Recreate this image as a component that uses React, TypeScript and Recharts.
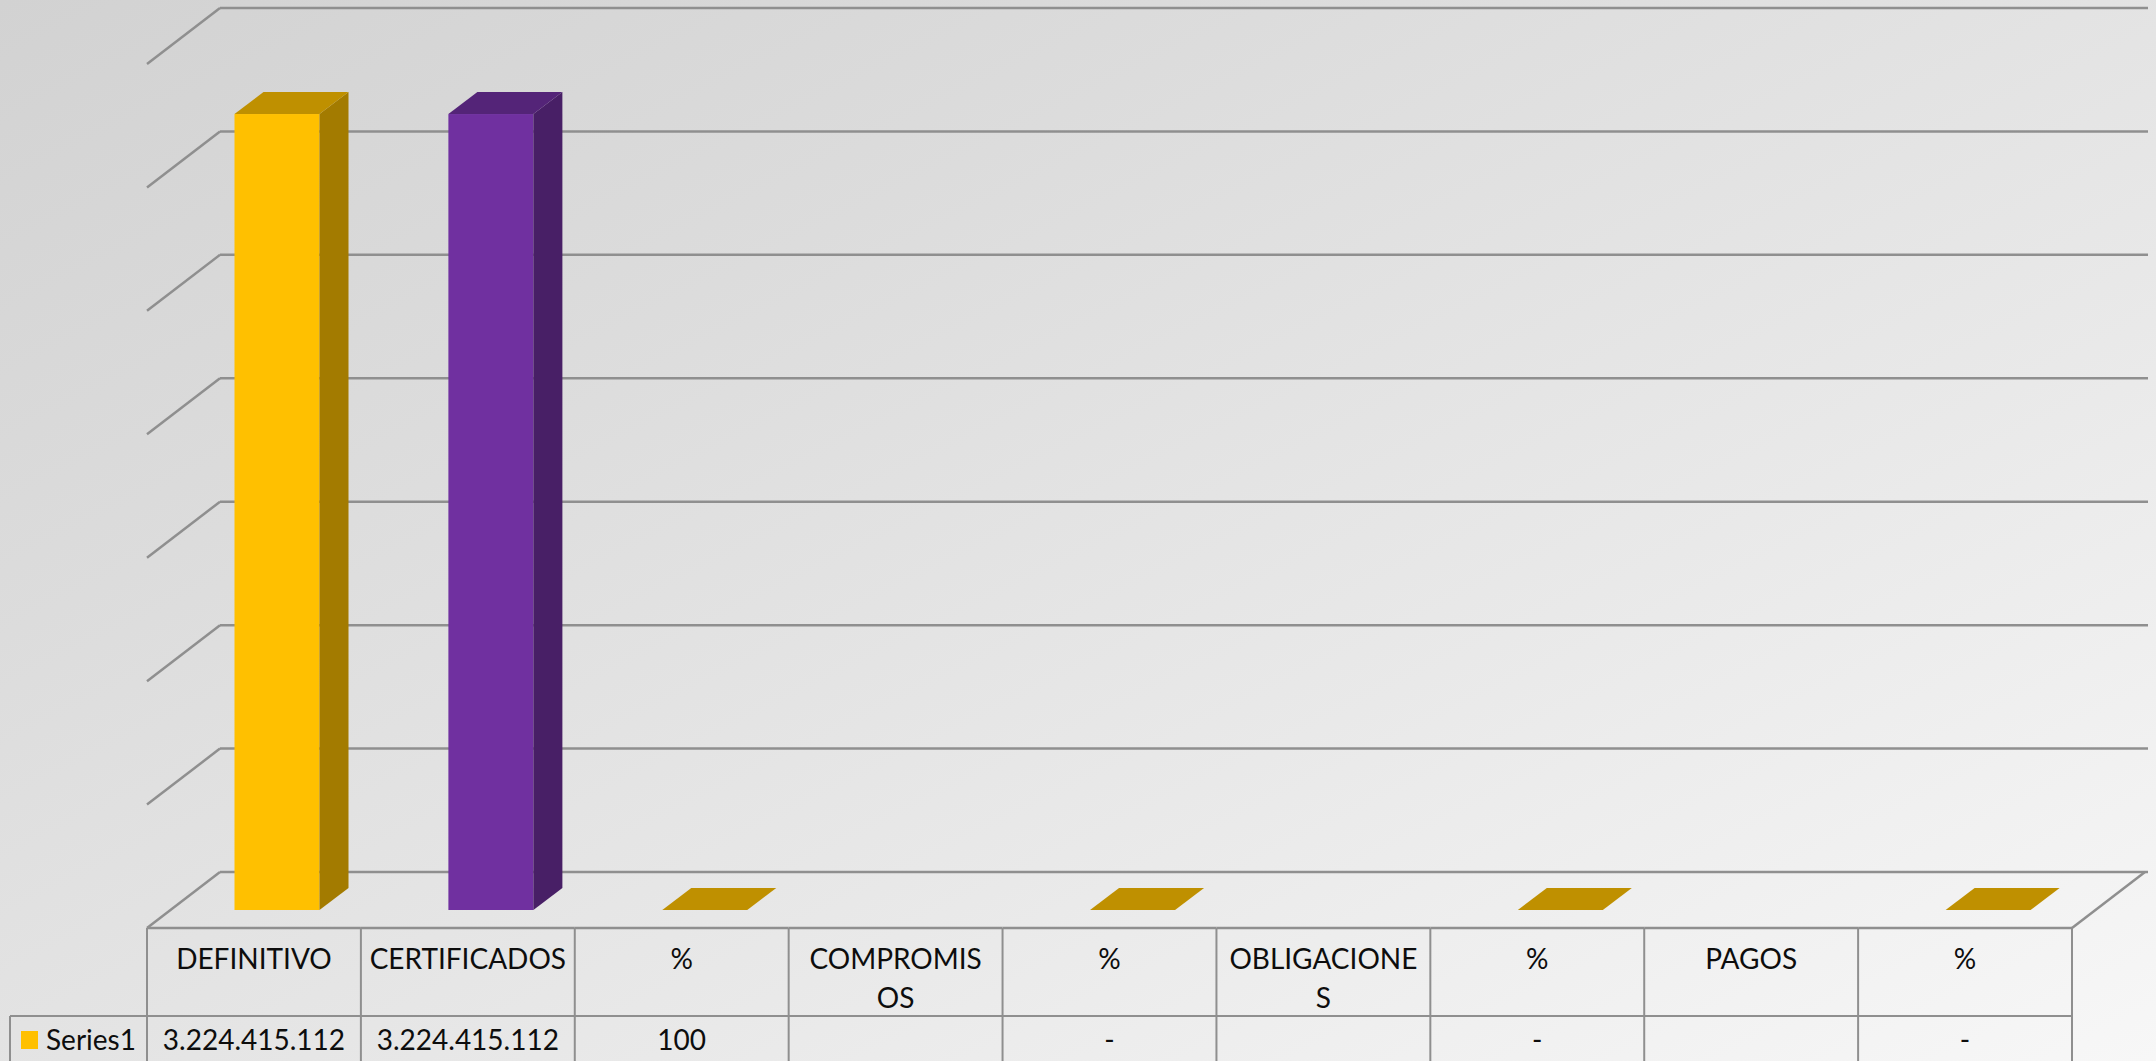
import React from 'react';
import { BarChart, Bar, XAxis, YAxis, CartesianGrid, Cell } from 'recharts';

// ---- data ----
const categories = ['DEFINITIVO', 'CERTIFICADOS', '%', 'COMPROMISOS', '%', 'OBLIGACIONES', '%', 'PAGOS', '%'];
// header text as the data table wraps it
const headerLines = [
  ['DEFINITIVO'],
  ['CERTIFICADOS'],
  ['%'],
  ['COMPROMIS', 'OS'],
  ['%'],
  ['OBLIGACIONE', 'S'],
  ['%'],
  ['PAGOS'],
  ['%'],
];
const series1: (number | null)[] = [3224415112, 3224415112, 100, null, 0, null, 0, null, 0];
const seriesName = 'Series1';
const yTicks = [0, 500000000, 1000000000, 1500000000, 2000000000, 2500000000, 3000000000, 3500000000];
const barColors = ['#FFC000', '#7030A0', '#FFC000', '#FFC000', '#FFC000', '#FFC000', '#FFC000', '#FFC000', '#FFC000'];

// ---- layout ----
const W = 2156;
const H = 1061;
const MARGIN = { top: 46, right: 60.5, left: 170.5, bottom: 0 };
const AXIS_H = 151;
const BAR_DX = 29; // bar depth
const BAR_DY = 22;
const FRONT_DX = 23.5; // bar front plane -> floor front edge
const FRONT_DY = 18;
const BACK_DX = 49.5; // bar front plane -> back wall
const BACK_DY = 38;
const LINE = '#8f8f8f';
const FONT = 'Lato, "Open Sans", sans-serif';

const data = categories.map((name, i) => ({ key: i, name, value: series1[i] }));

const fmt = (v: number | null) => {
  if (v == null) return '';
  if (v === 0) return '-';
  return String(v).replace(/\B(?=(\d{3})+(?!\d))/g, '.');
};

const shade = (hex: string, k: number) => {
  const n = parseInt(hex.slice(1), 16);
  const r = Math.round(((n >> 16) & 255) * k);
  const g = Math.round(((n >> 8) & 255) * k);
  const b = Math.round((n & 255) * k);
  return `rgb(${r},${g},${b})`;
};

const Bar3D = (props: any) => {
  const { x, y, width, height, fill } = props;
  if (x == null || y == null) return null;
  const r = x + width;
  const b = y + height;
  return (
    <g>
      {height > 0.5 && <rect x={x} y={y} width={width} height={height} fill={fill} />}
      {height > 0.5 && (
        <polygon
          points={`${r},${y} ${r + BAR_DX},${y - BAR_DY} ${r + BAR_DX},${b - BAR_DY} ${r},${b}`}
          fill={shade(fill, 0.64)}
        />
      )}
      <polygon
        points={`${x},${y} ${x + BAR_DX},${y - BAR_DY} ${r + BAR_DX},${y - BAR_DY} ${r},${y}`}
        fill={shade(fill, 0.75)}
      />
    </g>
  );
};

// side wall + back wall gridline for each y tick
const WallLine = (props: any) => {
  const { x1, y1, x2 } = props;
  return (
    <g key={`wall-${y1}`}>
      <line x1={x1 - FRONT_DX} y1={y1 + FRONT_DY} x2={x1 + BACK_DX} y2={y1 - BACK_DY} stroke={LINE} strokeWidth={2.5} />
      <line x1={x1 + BACK_DX} y1={y1 - BACK_DY} x2={x2 + BACK_DX + 3} y2={y1 - BACK_DY} stroke={LINE} strokeWidth={2.5} />
    </g>
  );
};

const TableTick = (props: any) => {
  const { x, y, payload, index } = props;
  const i = payload?.index ?? index;
  const half = payload?.offset || (W - MARGIN.left - MARGIN.right) / categories.length / 2;
  const cx = x - FRONT_DX;
  const left = cx - half;
  const right = cx + half;
  const top = y + FRONT_DY;
  const mid = top + 88;
  const last = i === categories.length - 1;
  return (
    <g>
      <line x1={left} y1={top} x2={right} y2={top} stroke={LINE} strokeWidth={2.5} />
      <line x1={left} y1={mid} x2={right} y2={mid} stroke={LINE} strokeWidth={2} />
      <line x1={left} y1={top} x2={left} y2={H} stroke={LINE} strokeWidth={2} />
      {last && <line x1={right} y1={top} x2={right} y2={H} stroke={LINE} strokeWidth={2} />}
      {last && (
        <line
          x1={right}
          y1={top}
          x2={right + FRONT_DX + BACK_DX}
          y2={y - BACK_DY}
          stroke={LINE}
          strokeWidth={2.5}
        />
      )}
      {headerLines[i].map((t, k) => (
        <text key={k} x={cx} y={top + 41 + k * 39} textAnchor="middle" fontFamily={FONT} fontSize={28} fill="#0d0d0d">
          {t}
        </text>
      ))}
      <text x={cx} y={mid + 34} textAnchor="middle" fontFamily={FONT} fontSize={28} fill="#0d0d0d">
        {fmt(series1[i])}
      </text>
      {i === 0 && (
        <g>
          <line x1={10} y1={mid} x2={left} y2={mid} stroke={LINE} strokeWidth={2} />
          <line x1={10} y1={mid} x2={10} y2={H} stroke={LINE} strokeWidth={2} />
          <rect x={21} y={mid + 15} width={17} height={18} fill={barColors[0]} />
          <text x={46} y={mid + 34} fontFamily={FONT} fontSize={28} fill="#0d0d0d">
            {seriesName}
          </text>
        </g>
      )}
    </g>
  );
};

export default function App() {
  return (
    <div
      style={{
        position: 'absolute',
        left: 0,
        top: 0,
        width: W,
        height: H,
        background: 'linear-gradient(to bottom right, #d2d2d2 0%, #dcdcdc 30%, #e9e9e9 65%, #f7f7f7 100%)',
      }}
    >
      <BarChart width={W} height={H} data={data} margin={MARGIN} barSize={85}>
        <CartesianGrid vertical={false} horizontal={WallLine} />
        <XAxis
          dataKey="key"
          type="category"
          height={AXIS_H}
          axisLine={false}
          tickLine={false}
          tickSize={0}
          tickMargin={0}
          interval={0}
          tick={TableTick}
        />
        <YAxis hide domain={[0, 3500000000]} ticks={yTicks} type="number" />
        <Bar dataKey="value" isAnimationActive={false} shape={Bar3D}>
          {data.map((d, i) => (
            <Cell key={d.key} fill={barColors[i]} />
          ))}
        </Bar>
      </BarChart>
    </div>
  );
}
